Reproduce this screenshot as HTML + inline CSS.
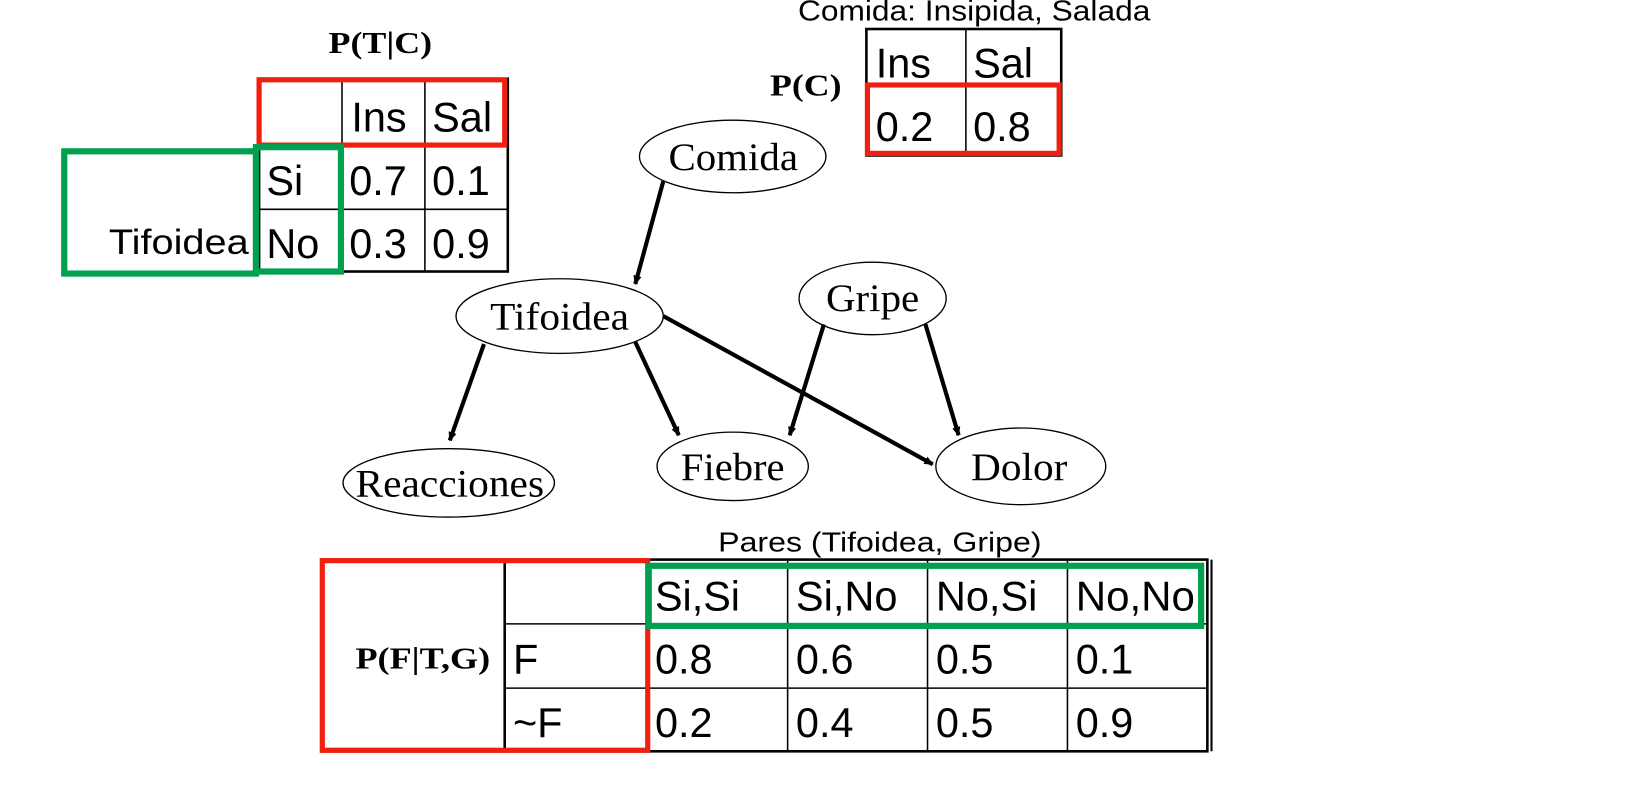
<!DOCTYPE html>
<html><head><meta charset="utf-8">
<style>
html,body{margin:0;padding:0;background:#fff;}
svg{display:block;}
.sans{font-family:"Liberation Sans",Arial,sans-serif;}
.serif{font-family:"Liberation Serif","Times New Roman",serif;}
.cal{font-family:"Liberation Sans",sans-serif;}
</style></head>
<body>
<svg width="1625" height="811" viewBox="0 0 1568 782.6" preserveAspectRatio="none" xmlns="http://www.w3.org/2000/svg">
<defs>
<marker id="ah" markerWidth="10" markerHeight="10" refX="8" refY="5" orient="auto" markerUnits="userSpaceOnUse">
<path d="M0,1 L9,5 L0,9 z" fill="#000"/>
</marker>
</defs>
<rect width="1568" height="783" fill="#fff"/>

<!-- P(T|C) table -->
<g>
<text x="367" y="51" text-anchor="middle" class="serif" font-weight="bold" font-size="30" textLength="100" lengthAdjust="spacingAndGlyphs">P(T|C)</text>
<g stroke="#000" stroke-width="1.5" fill="none">
<rect x="250" y="76" width="240" height="186" stroke-width="2.5"/>
<line x1="330" y1="76" x2="330" y2="262"/>
<line x1="410" y1="76" x2="410" y2="262"/>
<line x1="250" y1="140" x2="490" y2="140"/>
<line x1="250" y1="202" x2="490" y2="202"/>
</g>
<g class="sans" font-size="40" fill="#000">
<text x="339" y="127">Ins</text><text x="417" y="127">Sal</text>
<text x="257" y="188">Si</text><text x="337" y="188">0.7</text><text x="417" y="188">0.1</text>
<text x="257" y="249">No</text><text x="337" y="249">0.3</text><text x="417" y="249">0.9</text>
</g>
<rect x="250" y="77" width="237" height="63" fill="none" stroke="#f02010" stroke-width="5"/>
<rect x="62" y="146" width="185" height="118" fill="none" stroke="#00a050" stroke-width="6"/>
<rect x="247" y="142" width="82" height="120" fill="none" stroke="#00a050" stroke-width="6"/>
<text x="105" y="245" class="cal" font-size="34" textLength="135" lengthAdjust="spacingAndGlyphs" fill="#000">Tifoidea</text>
</g>

<!-- P(C) table -->
<g>
<text x="770" y="20" class="cal" font-size="28" textLength="340" lengthAdjust="spacingAndGlyphs" fill="#000">Comida: Insipida, Salada</text>
<text x="743" y="92" class="serif" font-weight="bold" font-size="30" textLength="69" lengthAdjust="spacingAndGlyphs">P(C)</text>
<g stroke="#000" stroke-width="1.5" fill="none">
<rect x="836" y="28" width="188" height="122" stroke-width="2.5"/>
<line x1="932" y1="28" x2="932" y2="150"/>
<line x1="836" y1="83" x2="1024" y2="83"/>
</g>
<g class="sans" font-size="40" fill="#000">
<text x="845" y="75">Ins</text><text x="939" y="75">Sal</text>
<text x="845" y="136">0.2</text><text x="939" y="136">0.8</text>
</g>
<rect x="837" y="82" width="185" height="66" fill="none" stroke="#f02010" stroke-width="5"/>
</g>

<!-- Network -->
<g class="serif" font-size="38" fill="#000">
<g stroke="#000" stroke-width="4" marker-end="url(#ah)">
<line x1="640" y1="175" x2="613" y2="274"/>
<line x1="467" y1="332" x2="434" y2="425"/>
<line x1="613" y1="330" x2="655" y2="420"/>
<line x1="640" y1="305" x2="900" y2="448"/>
<line x1="795" y1="313" x2="762" y2="420"/>
<line x1="893" y1="313" x2="925" y2="420"/>
</g>
<g fill="none" stroke="#000" stroke-width="1.3">
<ellipse cx="707" cy="151" rx="90" ry="35"/>
<ellipse cx="540" cy="305" rx="100" ry="36"/>
<ellipse cx="842" cy="288" rx="71" ry="35"/>
<ellipse cx="433" cy="466" rx="102" ry="33"/>
<ellipse cx="707" cy="450" rx="73" ry="33"/>
<ellipse cx="985" cy="450" rx="82" ry="37"/>
</g>
<text x="645" y="164" textLength="125" lengthAdjust="spacingAndGlyphs">Comida</text>
<text x="473" y="318" textLength="134" lengthAdjust="spacingAndGlyphs">Tifoidea</text>
<text x="797" y="300" textLength="90" lengthAdjust="spacingAndGlyphs">Gripe</text>
<text x="343" y="479" textLength="182" lengthAdjust="spacingAndGlyphs">Reacciones</text>
<text x="657" y="463" textLength="100" lengthAdjust="spacingAndGlyphs">Fiebre</text>
<text x="937" y="463" textLength="93" lengthAdjust="spacingAndGlyphs">Dolor</text>
</g>

<!-- P(F|T,G) table -->
<g>
<text x="693" y="532" class="cal" font-size="27" textLength="312" lengthAdjust="spacingAndGlyphs" fill="#000">Pares (Tifoidea, Gripe)</text>
<g stroke="#000" stroke-width="1.5" fill="none">
<rect x="310" y="540" width="855" height="185" stroke-width="2.5"/>
<line x1="1169" y1="540" x2="1169" y2="725" stroke-width="2"/>
<line x1="487" y1="540" x2="487" y2="725" stroke-width="2.5"/>
<line x1="625" y1="540" x2="625" y2="725"/>
<line x1="760" y1="540" x2="760" y2="725"/>
<line x1="895" y1="540" x2="895" y2="725"/>
<line x1="1030" y1="540" x2="1030" y2="725"/>
<line x1="487" y1="602" x2="1165" y2="602"/>
<line x1="487" y1="664" x2="1165" y2="664"/>
</g>
<text x="343" y="645" class="serif" font-weight="bold" font-size="30" textLength="130" lengthAdjust="spacingAndGlyphs">P(F|T,G)</text>
<g class="sans" font-size="40" fill="#000">
<text x="632" y="589" textLength="82" lengthAdjust="spacingAndGlyphs">Si,Si</text><text x="768" y="589" textLength="98" lengthAdjust="spacingAndGlyphs">Si,No</text><text x="903" y="589" textLength="98" lengthAdjust="spacingAndGlyphs">No,Si</text><text x="1038" y="589" textLength="115" lengthAdjust="spacingAndGlyphs">No,No</text>
<text x="495" y="650">F</text><text x="632" y="650">0.8</text><text x="768" y="650">0.6</text><text x="903" y="650">0.5</text><text x="1038" y="650">0.1</text>
<text x="495" y="711">~F</text><text x="632" y="711">0.2</text><text x="768" y="711">0.4</text><text x="903" y="711">0.5</text><text x="1038" y="711">0.9</text>
</g>
<rect x="311" y="541" width="314" height="183" fill="none" stroke="#f02010" stroke-width="5"/>
<rect x="626" y="546" width="533" height="58" fill="none" stroke="#00a050" stroke-width="6"/>
</g>
</svg>
</body></html>
